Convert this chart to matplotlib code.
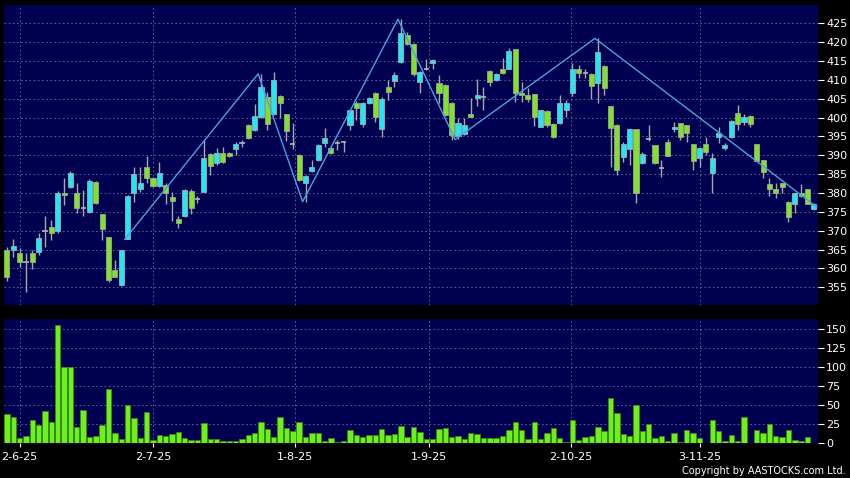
import matplotlib
matplotlib.use("Agg")
import matplotlib.pyplot as plt
import numpy as np

# daily OHLC (oldest first)
opens = [364.9, 364.9, 364.2, 361.6, 364.0, 364.4, 369.8, 371.1, 369.9, 379.9,
         381.7, 379.9, 375.9, 374.9, 383.0, 374.3, 368.3, 359.6, 355.6, 367.7,
         380.1, 381.0, 386.8, 383.9, 381.9, 382.1, 378.9, 373.0, 373.9, 380.6,
         378.3, 380.3, 390.3, 387.9, 390.7, 390.7, 391.6, 393.2, 397.9, 396.7,
         400.2, 405.5, 401.0, 405.7, 400.9, 392.9, 390.1, 382.6, 385.9, 388.7,
         393.2, 391.9, 393.2, 393.6, 398.0, 403.9, 398.3, 403.9, 406.6, 396.9,
         408.0, 409.8, 414.8, 421.9, 419.5, 409.3, 413.0, 414.6, 409.1, 408.6,
         403.8, 395.1, 395.6, 400.9, 405.3, 405.5, 412.4, 410.0, 413.0, 413.0,
         418.1, 406.4, 405.9, 406.2, 397.6, 401.8, 398.3, 398.5, 402.0, 406.4,
         413.0, 411.7, 411.6, 409.1, 413.8, 403.1, 397.9, 389.5, 391.6, 396.9,
         387.9, 394.2, 392.6, 386.7, 393.4, 396.9, 398.5, 398.0, 393.0, 389.2,
         392.9, 385.2, 394.9, 391.9, 394.8, 401.3, 398.9, 400.5, 392.9, 388.7,
         382.3, 381.0, 382.6, 377.7, 377.1, 380.1, 381.0, 375.7]
highs = [365.8, 367.7, 365.3, 364.0, 364.9, 369.3, 373.9, 372.8, 380.5, 383.9,
         385.9, 382.6, 380.8, 383.6, 383.3, 374.3, 368.3, 362.3, 364.9, 379.6,
         387.0, 386.8, 389.8, 384.2, 388.3, 382.6, 380.3, 373.9, 381.0, 381.0,
         379.2, 394.1, 390.7, 391.9, 392.1, 391.0, 393.6, 394.1, 398.3, 403.5,
         411.6, 406.9, 412.2, 406.0, 401.0, 398.5, 390.3, 384.7, 388.8, 393.0,
         397.2, 392.1, 394.1, 393.7, 402.4, 404.5, 404.2, 405.4, 406.9, 405.4,
         410.0, 412.2, 426.1, 422.8, 419.7, 412.4, 415.5, 415.5, 411.3, 408.8,
         404.0, 399.8, 399.8, 405.1, 410.1, 408.2, 412.6, 411.8, 415.7, 418.4,
         418.2, 409.5, 407.8, 406.3, 402.1, 402.0, 398.5, 405.9, 404.7, 414.6,
         413.9, 413.0, 411.7, 421.0, 414.0, 403.2, 398.3, 393.6, 397.0, 397.0,
         391.0, 398.0, 392.7, 388.7, 394.3, 398.8, 398.6, 398.1, 393.1, 392.0,
         394.9, 390.5, 397.4, 393.3, 399.3, 403.3, 400.9, 400.6, 393.0, 388.8,
         383.9, 382.6, 382.7, 377.8, 380.1, 382.4, 381.1, 377.3]
lows = [356.7, 363.1, 360.5, 353.8, 359.8, 363.6, 365.8, 367.5, 369.5, 376.8,
        381.2, 374.6, 373.9, 374.6, 377.0, 367.5, 356.5, 357.6, 355.4, 367.7,
        377.5, 380.3, 382.6, 381.7, 381.7, 377.1, 372.7, 370.6, 373.7, 374.4,
        377.3, 380.3, 384.8, 387.4, 387.9, 389.5, 390.1, 392.1, 394.2, 396.5,
        400.0, 396.7, 400.7, 399.8, 393.9, 391.6, 383.2, 377.7, 385.6, 388.5,
        392.1, 390.3, 391.4, 391.0, 396.7, 399.4, 397.5, 403.6, 398.9, 394.8,
        404.7, 408.2, 414.6, 419.2, 410.9, 406.6, 412.6, 413.0, 403.8, 400.5,
        394.0, 394.2, 395.3, 400.1, 403.1, 402.0, 408.4, 409.8, 411.6, 412.8,
        404.2, 404.2, 404.2, 397.8, 397.4, 397.5, 394.5, 398.3, 400.2, 405.7,
        410.4, 410.5, 404.8, 403.9, 406.0, 387.0, 384.8, 388.3, 387.4, 377.4,
        387.7, 393.9, 387.7, 384.2, 389.8, 396.3, 394.0, 393.6, 386.1, 386.8,
        390.1, 379.9, 393.2, 391.4, 394.6, 396.7, 397.9, 397.4, 388.4, 383.9,
        379.2, 378.6, 379.9, 372.4, 374.6, 379.0, 377.0, 375.5]
closes = [357.8, 366.0, 361.8, 362.0, 361.8, 368.0, 369.8, 369.5, 380.1, 379.4,
          385.2, 375.9, 375.9, 383.3, 377.3, 370.4, 356.9, 357.8, 364.9, 379.3,
          385.0, 382.6, 383.9, 381.9, 385.4, 380.1, 377.8, 372.0, 380.8, 375.9,
          378.3, 389.2, 387.2, 390.5, 388.3, 389.8, 393.0, 393.2, 394.5, 400.3,
          408.0, 398.3, 409.9, 403.9, 396.5, 392.9, 383.4, 384.5, 386.8, 392.7,
          394.7, 390.5, 393.2, 393.6, 402.0, 402.5, 403.9, 405.1, 400.1, 404.8,
          406.9, 411.3, 422.3, 419.5, 411.6, 412.2, 413.0, 415.3, 406.4, 400.7,
          395.4, 398.6, 398.0, 400.2, 406.0, 405.5, 409.5, 411.5, 411.7, 417.7,
          406.6, 405.9, 404.8, 400.2, 402.0, 398.0, 394.9, 403.8, 403.9, 413.0,
          411.7, 411.7, 408.4, 417.3, 407.8, 397.2, 386.1, 393.0, 396.9, 380.1,
          390.3, 394.2, 388.0, 386.7, 389.9, 397.4, 394.8, 395.8, 388.5, 391.9,
          391.0, 389.2, 396.0, 392.6, 399.2, 398.3, 400.1, 398.2, 388.6, 385.6,
          381.1, 379.9, 381.7, 373.6, 379.9, 379.2, 377.1, 377.0]
volumes = [38.6, 34.2, 7.5, 10.1, 30.7, 24.1, 42.1, 28.1, 155.7, 100.9,
           100.9, 21.9, 43.4, 8.8, 10.1, 23.7, 71.5, 14.0, 5.7, 50.4,
           33.8, 7.5, 41.7, 4.4, 11.4, 10.1, 12.3, 14.5, 7.5, 3.9,
           3.9, 27.2, 6.1, 6.1, 3.5, 3.5, 3.1, 6.1, 11.0, 14.0,
           28.1, 18.4, 8.8, 34.2, 20.2, 16.2, 27.6, 8.8, 14.0, 13.6,
           3.5, 7.0, 1.8, 3.1, 17.5, 11.4, 8.3, 11.0, 10.5, 18.9,
           11.0, 11.8, 23.2, 8.8, 21.9, 14.5, 6, 6, 19, 20,
           8, 10, 6, 14, 12, 7, 7, 7, 10, 17,
           28, 17, 6, 28, 5, 14, 20, 7, 2, 31,
           4, 8, 9, 22, 16, 60, 40, 12, 10, 50,
           16, 26, 7, 9, 3, 13, 2, 17, 13, 7,
           1, 30, 16, 3, 11, 3, 34, 0.4, 17, 14,
           26, 9, 8, 18, 4, 3, 8, 1]

# zigzag turning points (bar position, price)
zz_x = [18.55, 39.55, 46.55, 61.55, 70.55, 92.55, 127.45]
zz_y = [367.7, 411.6, 377.7, 426.1, 394.2, 421.0, 376.3]

date_pos = [2.0, 23.0, 45.4, 66.5, 88.75, 109.0]
date_labels = ["2-6-25", "2-7-25", "1-8-25", "1-9-25", "2-10-25", "3-11-25"]

price_ticks = list(range(355, 426, 5))
vol_ticks = [0, 25, 50, 75, 100, 125, 150]

bg = "#000050"
grid_c = "#6c6c9c"
up_c = "#22e6f2"
down_c = "#82e22a"

x = np.arange(len(opens))
o = np.array(opens)
h = np.array(highs)
l = np.array(lows)
c = np.array(closes)

fig = plt.figure(figsize=(8.5, 4.78), dpi=100, facecolor="black")
ax1 = fig.add_axes([4 / 850, 173 / 478, 813.7 / 850, 300 / 478])
ax2 = fig.add_axes([4 / 850, 34.7 / 478, 813.7 / 850, 124.3 / 478], sharex=ax1)

for ax in (ax1, ax2):
    ax.set_facecolor(bg)
    for s in ax.spines.values():
        s.set_visible(False)
    ax.set_axisbelow(True)
    ax.grid(True, color=grid_c, linestyle=(0, (2, 3)), linewidth=0.6)
    ax.yaxis.tick_right()
    ax.tick_params(axis="y", colors="white", labelsize=8, length=4, width=0.8, pad=2)

# candles
ax1.vlines(x, l, h, color="#a8a8a8", linewidth=1, zorder=2)
doji = o == c
up = (c > o)
dn = (c < o)
ax1.bar(x[up], (c - o)[up], bottom=o[up], width=0.8, color=up_c,
        edgecolor="#9ab0b4", linewidth=0.6, zorder=3)
ax1.bar(x[dn], (o - c)[dn], bottom=c[dn], width=0.8, color=down_c,
        edgecolor="#9aa49a", linewidth=0.6, zorder=3)
ax1.hlines(c[doji], x[doji] - 0.4, x[doji] + 0.4, color="#b4b4b4", linewidth=1.2, zorder=3)

ax1.plot(zz_x, zz_y, color="#44a4e4", linewidth=1, zorder=4)

ax1.set_xlim(-0.45, 127.6)
ax1.set_ylim(350.3, 429.85)
ax1.set_yticks(price_ticks)
ax1.set_xticks(date_pos)
ax1.tick_params(axis="x", length=0, labelbottom=False)

# volume
ax2.bar(x, volumes, width=0.85, color="#6cf21a", edgecolor="#3c8a10", linewidth=0.5, zorder=3)
ax2.set_ylim(0, 163.5)
ax2.set_yticks(vol_ticks)
ax2.set_xticks(date_pos)
ax2.set_xticklabels(date_labels)
ax2.tick_params(axis="x", colors="white", labelsize=8, length=3, width=0.8, pad=3)

fig.text(846 / 850, 1 - 471 / 478, "Copyright by AASTOCKS.com Ltd.", ha="right", va="center",
         color="white", fontsize=7)

fig.savefig("out.png", dpi=100, facecolor="black")
